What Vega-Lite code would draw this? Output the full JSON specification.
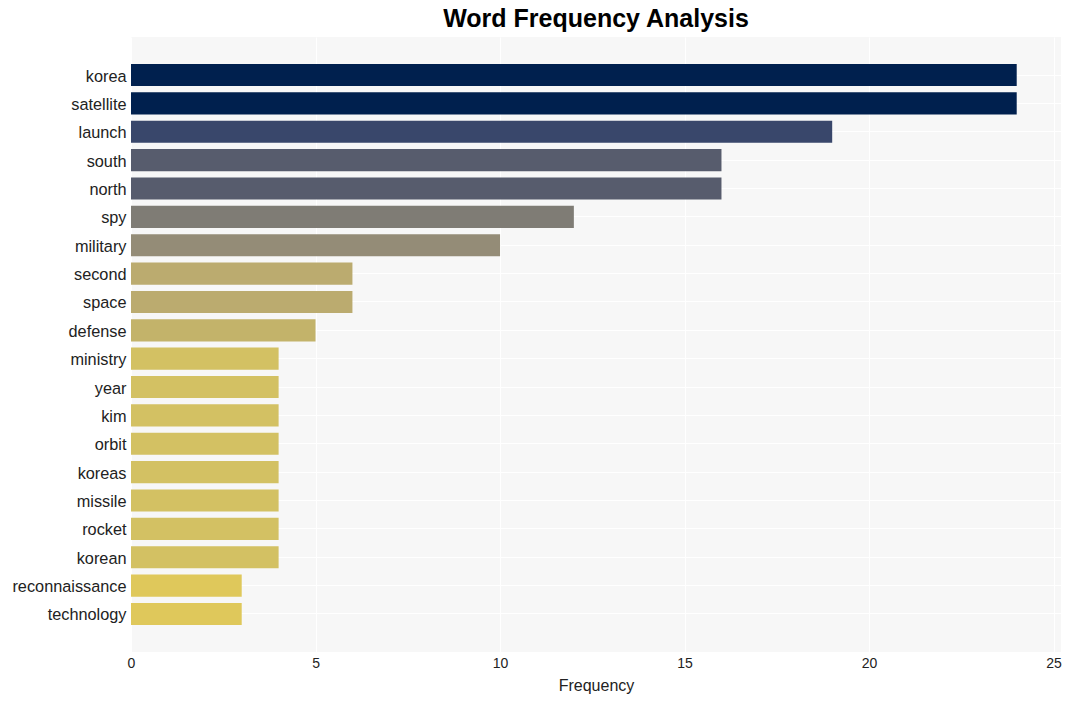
{
  "$schema": "https://vega.github.io/schema/vega-lite/v6.json",
  "width": 930,
  "height": 615,
  "autosize": {"type": "none"},
  "padding": {"left": 131, "top": 37, "right": 10, "bottom": 49},
  "background": "white",
  "title": {
    "text": "Word Frequency Analysis",
    "fontSize": 25,
    "font": "Liberation Sans",
    "fontWeight": "bold",
    "color": "#000000",
    "anchor": "middle",
    "offset": 5
  },
  "config": {
    "view": {"fill": "#f7f7f7", "stroke": null},
    "font": "Liberation Sans"
  },
  "data": {
    "values": [
      {"word": "korea", "Frequency": 24},
      {"word": "satellite", "Frequency": 24},
      {"word": "launch", "Frequency": 19},
      {"word": "south", "Frequency": 16},
      {"word": "north", "Frequency": 16},
      {"word": "spy", "Frequency": 12},
      {"word": "military", "Frequency": 10},
      {"word": "second", "Frequency": 6},
      {"word": "space", "Frequency": 6},
      {"word": "defense", "Frequency": 5},
      {"word": "ministry", "Frequency": 4},
      {"word": "year", "Frequency": 4},
      {"word": "kim", "Frequency": 4},
      {"word": "orbit", "Frequency": 4},
      {"word": "koreas", "Frequency": 4},
      {"word": "missile", "Frequency": 4},
      {"word": "rocket", "Frequency": 4},
      {"word": "korean", "Frequency": 4},
      {"word": "reconnaissance", "Frequency": 3},
      {"word": "technology", "Frequency": 3}
    ]
  },
  "mark": {"type": "bar"},
  "encoding": {
    "y": {
      "field": "word",
      "type": "nominal",
      "sort": null,
      "scale": {"paddingInner": 0.22, "paddingOuter": 0.95},
      "axis": {
        "title": null,
        "domain": false,
        "ticks": false,
        "labelFontSize": 16.3,
        "labelColor": "#222222",
        "labelPadding": 5,
        "labelOffset": 1.5,
        "grid": true,
        "gridColor": "#ffffff",
        "gridWidth": 1,
        "bandPosition": 0.5
      }
    },
    "x": {
      "field": "Frequency",
      "type": "quantitative",
      "scale": {"domain": [0, 25.2], "nice": false},
      "axis": {
        "values": [0, 5, 10, 15, 20, 25],
        "title": "Frequency",
        "titleFontSize": 16,
        "titleFontWeight": "normal",
        "titleColor": "#222222",
        "titlePadding": 7,
        "domain": false,
        "ticks": false,
        "labelFontSize": 14,
        "labelColor": "#222222",
        "labelPadding": 4,
        "labelFlush": false,
        "grid": true,
        "gridColor": "#ffffff",
        "gridWidth": 1
      }
    },
    "color": {
      "field": "Frequency",
      "type": "quantitative",
      "legend": null,
      "scale": {
        "domain": [3, 4, 5, 6, 10, 12, 16, 19, 24],
        "range": ["#dfc85b", "#d3c163", "#c3b36a", "#bbab6f", "#948c77", "#7f7c75", "#575c6d", "#39476b", "#00204e"]
      }
    }
  }
}
